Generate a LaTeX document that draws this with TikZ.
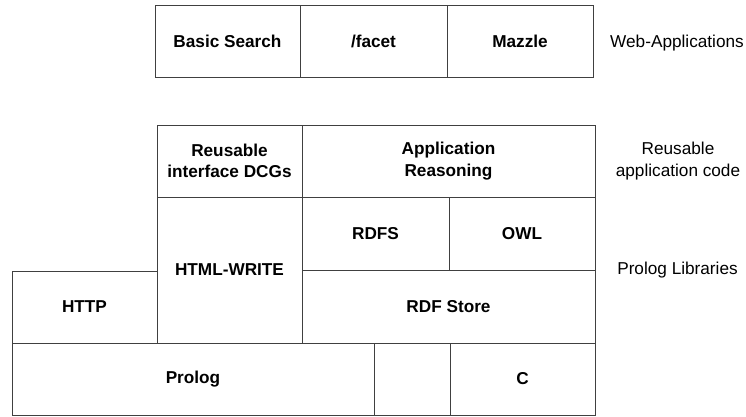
\documentclass[tikz,border=0pt]{standalone}
\usepackage{fontspec}
\setmainfont{Liberation Sans}
\begin{document}
\begin{tikzpicture}[x=1pt,y=-1pt,
  box/.style={draw=black!75, line width=0.9pt, rectangle, inner sep=0pt, outer sep=0pt,
    align=center, font=\fontsize{17.2}{21.5}\selectfont\bfseries},
  lbl/.style={inner sep=0pt, align=center, font=\fontsize{17.2}{21.5}\selectfont}]
\useasboundingbox (0,0) rectangle (746,416);
% web applications
\node[box, minimum width=145pt, minimum height=72pt] (bs) at (227.5,41) {Basic Search};
\node[box, minimum width=147pt, minimum height=72pt] (facet) at (373.5,41) {/facet};
\node[box, minimum width=146pt, minimum height=72pt] (mazzle) at (520,41) {Mazzle};
% reusable application code
\node[box, minimum width=145pt, minimum height=72pt] (dcg) at (229.5,161) {Reusable\\interface DCGs};
\node[box, minimum width=293pt, minimum height=72pt] (appr) at (448.5,161) {Application\\Reasoning};
% prolog libraries
\node[box, minimum width=145pt, minimum height=146pt] (html) at (229.5,270) {HTML-WRITE};
\node[box, minimum width=145pt, minimum height=72pt] (http) at (84.5,307) {HTTP};
\node[box, minimum width=147pt, minimum height=73pt] (rdfs) at (375.5,233.5) {RDFS};
\node[box, minimum width=146pt, minimum height=73pt] (owl) at (522,233.5) {OWL};
\node[box, minimum width=293pt, minimum height=73pt] (rdf) at (448.5,306.5) {RDF Store};
% bottom
\node[box, minimum width=362pt, minimum height=72pt] (prolog) at (193,379) {Prolog};
\node[box, minimum width=76pt, minimum height=72pt] (mid) at (412,379) {};
\node[box, minimum width=145pt, minimum height=72pt] (c) at (522.5,379) {C};
% layer labels
\node[lbl] (l1) at (677,43) {Web-Applications};
\node[lbl] (l2) at (678,161) {Reusable\\application code};
\node[lbl] (l3) at (677.5,270) {Prolog Libraries};
\end{tikzpicture}
\end{document}
